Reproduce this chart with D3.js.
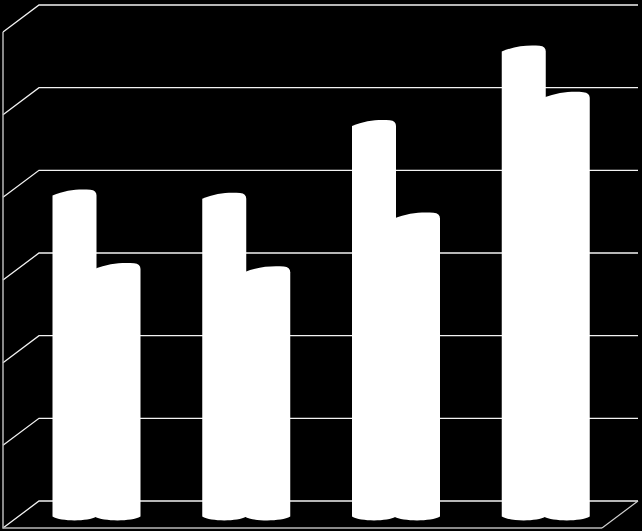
<!DOCTYPE html>
<html>
<head>
<meta charset="utf-8">
<script src="https://cdn.jsdelivr.net/npm/d3@7"></script>
<style>
html, body { margin: 0; padding: 0; background: #000; overflow: hidden; }
svg { display: block; }
</style>
</head>
<body>
<div id="graph"></div>
<script>
// constants for graphing
var width = 642,
    height = 531;

// the picture has no labels, so these names are only keys
var categories = ["A", "B", "C", "D"];
var series_names = ["first", "second"];
var first_values = [3.86, 3.82, 4.70, 5.60];
var second_values = [2.97, 2.93, 3.58, 5.04];
var y_ticks = [0, 1, 2, 3, 4, 5, 6];

// 3d box: floor and walls are offset by this much
var depth_x = 36,
    depth_y = 27,
    front_left = 3,
    front_right = 602,
    front_bottom = 528,
    front_top = 32;

// cylinder ends
var top_ry = 6,
    bottom_ry = 4,
    base_drop = 2,
    bar_overlap = 2;

// front plane scale, walls and bars are shifted from it
var y = d3.scaleLinear().domain([0, 6]).range([front_bottom, front_top]);
var x = d3.scaleBand().domain(categories).range([front_left + depth_x / 2, front_right + depth_x / 2]);
var x_inner = d3.scaleBand().domain(series_names).range([31.5, 119.5]);

var svg = d3.select("#graph")
  .append("svg")
    .attr("width", width)
    .attr("height", height);

svg.append("rect")
    .attr("width", width)
    .attr("height", height)
    .attr("fill", "#000");

// gridlines: side wall diagonal, then along the back wall
svg.selectAll("path.grid")
    .data(y_ticks)
    .enter()
    .append("path")
    .attr("class", "grid")
    .attr("fill", "none")
    .attr("stroke", "#f2f2f2")
    .attr("stroke-width", 1.3)
    .attr("d", function(d) {
        return "M" + front_left + "," + y(d)
             + "L" + (front_left + depth_x) + "," + (y(d) - depth_y)
             + "L" + (front_right + depth_x) + "," + (y(d) - depth_y);
    });

// front edges of floor and side wall
svg.append("path")
    .attr("fill", "none")
    .attr("stroke", "#b8b8b8")
    .attr("stroke-width", 1.5)
    .attr("d", "M" + front_left + "," + front_top
             + "L" + front_left + "," + front_bottom
             + "L" + front_right + "," + front_bottom);

svg.append("path")
    .attr("fill", "none")
    .attr("stroke", "#d0d0d0")
    .attr("stroke-width", 1.2)
    .attr("d", "M" + front_right + "," + front_bottom
             + "L" + (front_right + depth_x) + "," + (front_bottom - depth_y));

// build the bars
var data = [];
for (var i = 0; i < categories.length; i++) {
    data.push({cat: categories[i], name: series_names[1], val: second_values[i]});
    data.push({cat: categories[i], name: series_names[0], val: first_values[i]});
}

// a cylinder: lopsided top, straight sides, flat bottom curve.
// the second bar starts a bit early so there is no gap and the feet make a notch
function cylinder(d) {
    var w = x_inner.bandwidth();
    var left = x(d.cat) + x_inner(d.name);
    var right = left + w;
    if (d.name == series_names[1]) {
        left = left - bar_overlap;
    }
    var top = y(d.val) - depth_y / 2;
    var base = y(0) - depth_y / 2 + base_drop;
    var bw = right - left;
    return "M" + left + "," + top
         + "C" + (left + bw * 0.3) + "," + (top - top_ry * 0.95)
         + " " + (left + bw * 0.6) + "," + (top - top_ry * 1.1)
         + " " + (left + bw * 0.86) + "," + (top - top_ry * 0.95)
         + "Q" + right + "," + (top - top_ry * 0.85) + " " + right + "," + top
         + "L" + right + "," + base
         + "C" + (right - bw * 0.2) + "," + (base + bottom_ry * 1.3)
         + " " + (left + bw * 0.2) + "," + (base + bottom_ry * 1.3)
         + " " + left + "," + base
         + "Z";
}

svg.selectAll("path.bar")
    .data(data)
    .enter()
    .append("path")
    .attr("class", "bar")
    .attr("fill", "#fff")
    .attr("d", cylinder);
</script>
</body>
</html>
